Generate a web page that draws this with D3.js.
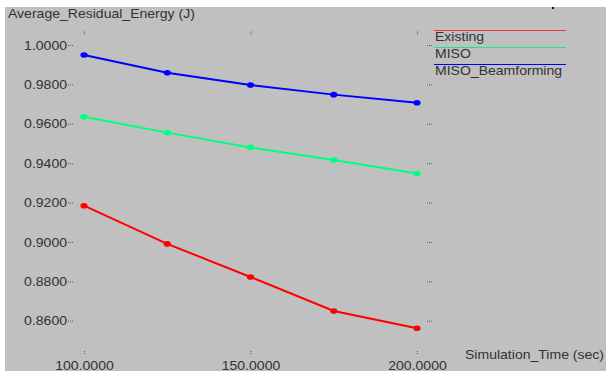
<!DOCTYPE html>
<html>
<head>
<meta charset="utf-8">
<script src="https://cdn.jsdelivr.net/npm/d3@7"></script>
<style>
  html, body { margin: 0; padding: 0; background: #fff; }
  svg { display: block; }
  text { font-family: "Liberation Sans", Arial, sans-serif; font-size: 12px; fill: #333; }
</style>
</head>
<body>
<div id="chart"></div>
<script>
// simulation times (sec)
const simTimes = [100, 125, 150, 175, 200];

// average residual energy (J) per scheme
const existing = [0.9184, 0.8990, 0.8822, 0.8649, 0.8562];
const miso = [0.9636, 0.9555, 0.9480, 0.9416, 0.9347];
const misoBeamforming = [0.9949, 0.9859, 0.9797, 0.9748, 0.9707];

const seriesNames = ["Existing", "MISO", "MISO_Beamforming"];
const seriesColors = ["#ff0000", "#00ff80", "#0000ff"];
const legendColors = ["#ff3030", "#10f080", "#0000ff"];

const xTicks = [100, 150, 200];
const yTicks = [0.86, 0.88, 0.90, 0.92, 0.94, 0.96, 0.98, 1.00];

const width = 606, height = 371;
const stretch = 1.17; // text in the original looks horizontally stretched

const svg = d3.select("#chart").append("svg")
    .attr("width", width)
    .attr("height", height);

svg.append("rect")
    .attr("x", 5).attr("y", 7)
    .attr("width", width - 5).attr("height", height - 7)
    .attr("fill", "#c0c0c0");

// little black mark at the top edge
svg.append("rect")
    .attr("x", 552).attr("y", 7).attr("width", 2).attr("height", 2)
    .attr("fill", "#111");

let x = d3.scaleLinear().domain([100, 200]).range([84, 417]);
let y = d3.scaleLinear().domain([0.86, 1.0]).range([320.7, 45]);

function label(sel, tx, ty, str, anchor) {
    sel.append("text")
        .attr("transform", "translate(" + tx + "," + ty + ") scale(" + stretch + ",1)")
        .attr("text-anchor", anchor || "start")
        .text(str);
}

function styleAxis(g) {
    g.select(".domain").remove();
    g.selectAll(".tick line")
        .attr("stroke", "#555")
        .attr("stroke-dasharray", "1,1");
}

// left axis with labels
let yAxisLeft = svg.append("g")
    .attr("transform", "translate(73,0)")
    .call(d3.axisLeft(y).tickValues(yTicks).tickSize(5).tickFormat(d3.format(".4f")));
styleAxis(yAxisLeft);
yAxisLeft.selectAll(".tick text")
    .attr("x", -6 / stretch)
    .attr("dy", "0.35em")
    .attr("transform", "scale(" + stretch + ",1)");
yAxisLeft.attr("font-size", null).attr("font-family", null);

// right axis, ticks only
let yAxisRight = svg.append("g")
    .attr("transform", "translate(427,0)")
    .call(d3.axisRight(y).tickValues(yTicks).tickSize(5).tickFormat(""));
styleAxis(yAxisRight);

// top axis, ticks only
let xAxisTop = svg.append("g")
    .attr("transform", "translate(0,34.5)")
    .call(d3.axisTop(x).tickValues(xTicks).tickSize(4).tickFormat(""));
styleAxis(xAxisTop);

// bottom axis with labels (cut by the bottom edge, as in the original)
let xAxisBottom = svg.append("g")
    .attr("transform", "translate(0,351)")
    .call(d3.axisBottom(x).tickValues(xTicks).tickSize(4).tickFormat(d3.format(".4f")));
styleAxis(xAxisBottom);
xAxisBottom.selectAll(".tick text")
    .attr("y", 0).attr("dy", null)
    .attr("transform", "translate(0,19) scale(" + stretch + ",1)");
xAxisBottom.attr("font-size", null).attr("font-family", null);

// titles
label(svg, 8, 17.5, "Average_Residual_Energy (J)");
label(svg, 465, 358.5, "Simulation_Time (sec)");

// series
const allSeries = [existing, miso, misoBeamforming];
let line = d3.line()
    .x(function (d, i) { return x(simTimes[i]); })
    .y(function (d) { return y(d); });

allSeries.forEach(function (values, s) {
    svg.append("path")
        .datum(values)
        .attr("fill", "none")
        .attr("stroke", seriesColors[s])
        .attr("stroke-width", 2)
        .attr("d", line);

    svg.selectAll(".pt" + s)
        .data(values)
        .enter()
        .append("ellipse")
        .attr("class", "pt" + s)
        .attr("cx", function (d, i) { return x(simTimes[i]); })
        .attr("cy", function (d) { return y(d); })
        .attr("rx", 3.6)
        .attr("ry", 2.8)
        .attr("fill", seriesColors[s]);
});

// legend
let legend = svg.append("g");
let legendY = d3.scaleLinear().domain([0, 2]).range([30.5, 64.5]);
seriesNames.forEach(function (name, i) {
    legend.append("line")
        .attr("x1", 434).attr("x2", 566)
        .attr("y1", legendY(i)).attr("y2", legendY(i))
        .attr("stroke", legendColors[i])
        .attr("stroke-width", 1);
    label(legend, 435, legendY(i) + 10.4, name);
});
</script>
</body>
</html>
